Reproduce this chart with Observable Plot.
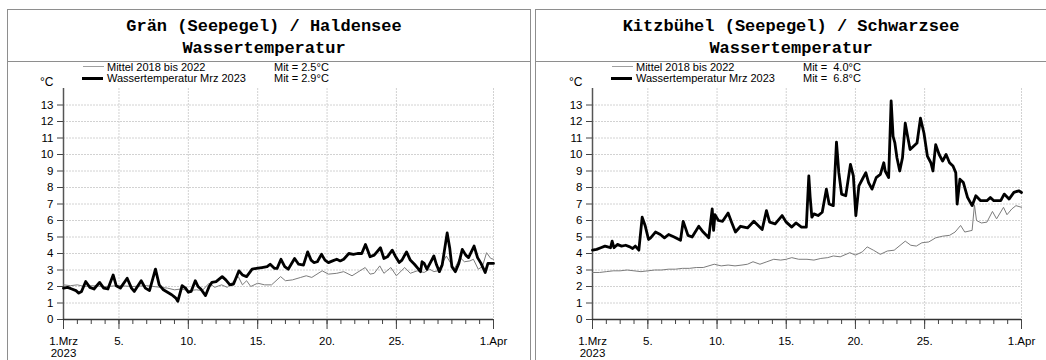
<!DOCTYPE html>
<html>
<head>
<meta charset="utf-8">
<script src="https://cdn.jsdelivr.net/npm/d3@7"></script>
<script src="https://cdn.jsdelivr.net/npm/@observablehq/plot@0.6"></script>
<style>
  html, body { margin: 0; padding: 0; background: #fff; }
  body { width: 1046px; height: 360px; position: relative; overflow: hidden;
         font-family: "Liberation Sans", Arial, sans-serif; color: #000; }
  .abs { position: absolute; }
  .title { font-family: "Liberation Mono", "Courier New", monospace; font-weight: bold;
           font-size: 17px; line-height: 22px; text-align: center; white-space: pre; }
  .leg { font-size: 11px; line-height: 11px; white-space: pre; }
  svg { position: absolute; }
</style>
</head>
<body>
<script>
// ---------- data (days since 1 March 2023 00:00, °C) ----------
const granTitle = ["Grän (Seepegel) / Haldensee", "Wassertemperatur"];
const kitzTitle = ["Kitzbühel (Seepegel) / Schwarzsee", "Wassertemperatur"];
const legendLabels = ["Mittel 2018 bis 2022", "Wassertemperatur Mrz 2023"];
const granMit = ["Mit = 2.5°C", "Mit = 2.9°C"];
const kitzMit = ["Mit =  4.0°C", "Mit =  6.8°C"];
const unitLabel = "°C";

const xMajorTicks = [0, 4, 9, 14, 19, 24, 31];
const xMajorLabels = ["1.Mrz\n2023", "5.", "10.", "15.", "20.", "25.", "1.Apr"];
const xMinorTicks = d3.range(0, 32);
const yTicks = d3.range(0, 14);
const yGrid = d3.range(1, 14);

// Grän / Haldensee – Mittel 2018 bis 2022
const granMean = [
  [0,2.1],[0.5,2.05],[1,2.1],[1.5,2.0],[2,2.05],[3,2.0],[4,2.05],[5,2.0],[6,2.05],
  [7,1.95],[7.5,1.9],[8,1.8],[8.5,1.85],[9,1.75],[9.6,1.8],[10,1.75],[10.5,2.2],
  [10.9,1.95],[11.4,2.1],[11.8,1.95],[12.6,2.6],[12.9,2.1],[13.2,2.35],[13.5,2.0],
  [14,2.2],[14.5,2.1],[15,2.1],[15.65,2.6],[16,2.35],[16.5,2.4],[17.1,2.55],
  [17.5,2.65],[17.9,2.55],[18.65,2.95],[19.1,2.75],[19.7,2.8],[20.2,2.9],[20.8,2.65],
  [21.75,3.15],[22.1,2.75],[22.4,2.8],[22.8,3.25],[23.1,2.8],[23.6,3.15],[24.0,2.65],
  [24.6,3.15],[25.0,2.8],[25.5,2.95],[26.0,2.85],[26.4,3.05],[26.7,2.9],[27.0,2.95],
  [27.6,3.85],[28.0,3.3],[28.2,3.1],[28.6,3.75],[28.9,3.5],[29.3,3.55],[29.55,3.65],
  [29.9,3.05],[30.2,3.2],[30.5,4.05],[30.8,3.7],[31,3.65]
];
// Grän / Haldensee – Wassertemperatur Mrz 2023
const granCur = [
  [0,1.9],[0.3,1.95],[0.6,1.85],[0.9,1.75],[1.1,1.6],[1.3,1.7],[1.6,2.3],[1.9,1.95],
  [2.2,1.85],[2.6,2.25],[2.9,1.9],[3.2,1.85],[3.58,2.7],[3.8,2.05],[4.1,1.9],[4.59,2.5],
  [4.9,1.9],[5.1,1.7],[5.6,2.35],[5.9,1.9],[6.2,1.75],[6.63,3.05],[6.9,2.1],[7.2,1.8],
  [7.5,1.65],[7.8,1.5],[7.95,1.4],[8.1,1.3],[8.24,1.1],[8.55,2.05],[8.8,1.9],[9.0,1.65],
  [9.2,1.7],[9.5,2.35],[9.7,2.0],[9.9,1.85],[10.24,1.45],[10.5,2.0],[10.7,2.25],[11.0,2.3],
  [11.44,2.6],[11.7,2.4],[12.0,2.1],[12.26,2.15],[12.65,2.95],[12.9,2.7],[13.2,2.6],
  [13.6,3.05],[13.9,3.1],[14.3,3.15],[14.68,3.2],[14.9,3.35],[15.2,3.1],[15.4,3.1],
  [15.68,3.65],[15.95,3.2],[16.2,3.05],[16.66,3.7],[16.95,3.35],[17.3,3.3],[17.6,4.1],
  [17.85,3.6],[18.05,3.45],[18.3,3.5],[18.6,3.95],[18.85,3.6],[19.1,3.45],[19.4,3.55],
  [19.7,3.65],[19.95,3.55],[20.2,3.65],[20.57,4.0],[20.9,3.95],[21.2,4.0],[21.5,4.0],
  [21.77,4.55],[21.95,4.15],[22.1,3.8],[22.4,3.9],[22.85,4.35],[23.1,3.7],[23.35,3.8],
  [23.7,4.2],[23.95,3.8],[24.2,3.45],[24.4,3.6],[24.73,4.1],[25.0,3.6],[25.3,3.35],
  [25.55,3.1],[25.74,2.9],[25.85,3.5],[26.0,3.4],[26.2,3.05],[26.45,3.45],[26.7,3.85],
  [26.9,3.3],[27.1,2.9],[27.3,3.3],[27.66,5.25],[27.85,4.3],[28.0,3.2],[28.25,2.9],
  [28.5,3.4],[28.75,4.25],[29.0,3.9],[29.2,3.75],[29.6,4.45],[29.85,3.75],[30.1,3.4],
  [30.4,2.85],[30.6,3.4],[30.8,3.4],[31,3.4]
];
// Kitzbühel / Schwarzsee – Mittel 2018 bis 2022
const kitzMean = [
  [0,2.85],[0.5,2.85],[1,2.9],[1.5,2.95],[2,2.95],[2.5,3.0],[3,2.95],[3.5,2.9],[4,2.95],
  [4.5,3.0],[5,3.0],[5.5,3.05],[6,3.05],[6.5,3.1],[7,3.1],[7.5,3.15],[8,3.15],[8.8,3.35],
  [9.3,3.25],[9.8,3.3],[10.3,3.25],[10.8,3.3],[11.2,3.35],[11.6,3.5],[12.1,3.35],
  [12.6,3.5],[13.1,3.65],[13.6,3.6],[14.0,3.65],[14.4,3.75],[14.9,3.65],[15.5,3.65],
  [16.0,3.6],[16.5,3.7],[17.0,3.75],[17.4,3.85],[17.9,3.8],[18.6,4.05],[19.0,3.9],
  [19.5,4.1],[19.85,4.4],[20.3,4.2],[20.8,3.95],[21.3,4.15],[21.8,4.2],[22.6,4.75],
  [23.0,4.5],[23.4,4.45],[23.8,4.65],[24.3,4.7],[24.8,4.95],[25.3,5.05],[25.8,5.1],
  [26.2,5.3],[26.6,5.7],[26.9,5.3],[27.43,5.4],[27.6,6.95],[27.75,6.0],[28.1,5.85],
  [28.5,5.9],[28.9,6.55],[29.2,6.1],[29.7,6.8],[29.95,6.35],[30.3,6.7],[30.6,6.9],[31,6.8]
];
// Kitzbühel / Schwarzsee – Wassertemperatur Mrz 2023
const kitzCur = [
  [0,4.2],[0.3,4.25],[0.6,4.35],[0.9,4.45],[1.1,4.4],[1.3,4.35],[1.42,4.75],[1.55,4.35],
  [1.8,4.55],[2.1,4.45],[2.4,4.5],[2.7,4.4],[2.9,4.3],[3.1,4.45],[3.35,4.2],[3.59,6.2],
  [3.8,5.7],[4.05,4.85],[4.2,4.95],[4.55,5.3],[4.9,5.15],[5.2,4.95],[5.5,5.15],[5.9,5.0],
  [6.36,4.8],[6.55,5.95],[6.7,5.6],[6.9,5.1],[7.2,5.0],[7.68,5.65],[8.0,5.3],[8.4,4.95],
  [8.65,6.7],[8.75,5.4],[8.85,6.35],[9.1,6.0],[9.4,5.95],[9.8,6.45],[10.05,5.9],
  [10.33,5.3],[10.7,5.65],[11.2,5.55],[11.66,5.95],[12.26,5.45],[12.57,6.6],[12.8,5.9],
  [13.2,5.8],[13.7,6.3],[14.0,5.9],[14.4,5.6],[14.7,5.85],[15.1,5.6],[15.45,5.6],
  [15.63,8.7],[15.73,7.4],[15.85,6.2],[16.0,6.4],[16.3,6.3],[16.6,6.5],[16.9,7.9],
  [17.1,7.0],[17.4,6.9],[17.63,10.75],[17.8,8.9],[18.0,7.6],[18.3,7.5],[18.64,9.4],
  [18.85,8.7],[19.03,6.3],[19.25,8.1],[19.5,8.5],[19.75,8.9],[19.95,8.3],[20.2,7.9],
  [20.5,8.6],[20.8,8.8],[21.05,9.5],[21.15,9.0],[21.4,8.6],[21.58,13.25],[21.72,11.1],
  [21.85,10.7],[22.0,9.8],[22.2,9.0],[22.4,9.8],[22.6,11.9],[22.75,11.2],[22.95,10.3],
  [23.2,10.5],[23.45,10.7],[23.7,12.2],[23.95,11.3],[24.2,9.9],[24.45,9.5],[24.6,9.0],
  [24.8,10.6],[25.05,10.0],[25.3,9.6],[25.55,10.0],[25.8,9.5],[26.05,9.3],[26.25,8.9],
  [26.35,7.0],[26.55,8.5],[26.8,8.3],[27.1,7.4],[27.43,6.9],[27.7,7.5],[28.05,7.2],
  [28.5,7.2],[28.75,7.4],[29.0,7.2],[29.5,7.2],[29.75,7.6],[30.1,7.3],[30.45,7.7],
  [30.8,7.8],[31,7.7]
];

// ---------- helpers ----------
function addDiv(cls, css, text) {
  const d = document.createElement("div");
  d.className = "abs " + (cls || "");
  d.style.cssText += css;
  if (text != null) d.textContent = text;
  document.body.appendChild(d);
  return d;
}
const labelMap = new Map(xMajorTicks.map((t, i) => [t, xMajorLabels[i]]));
const toRows = arr => arr.map(([day, value]) => ({day, value}));

function panel(cfg) {
  // outer box and title separator
  addDiv("", `left:${cfg.boxLeft}px;top:9px;width:${cfg.boxWidth}px;height:420px;border:1px solid #8e8e8e;box-sizing:border-box;`);
  addDiv("", `left:${cfg.boxLeft}px;top:61px;width:${cfg.boxWidth}px;height:1px;background:#8e8e8e;`);
  addDiv("title", `left:${cfg.titleLeft}px;top:16px;width:${cfg.titleWidth}px;`, cfg.title.join("\n"));

  const svgLeft = cfg.boxLeft + 1;
  const plotLeft = svgLeft + cfg.marginLeft;

  // legend
  addDiv("", `left:${plotLeft + 20}px;top:66px;width:21px;height:1px;background:#a0a0a0;`);
  addDiv("", `left:${plotLeft + 19}px;top:76.5px;width:21px;height:3px;background:#000;`);
  addDiv("leg", `left:${plotLeft + 44}px;top:61.5px;`, legendLabels[0]);
  addDiv("leg", `left:${plotLeft + 44}px;top:72.5px;`, legendLabels[1]);
  addDiv("leg", `left:${plotLeft + 211}px;top:61.5px;`, cfg.mit[0]);
  addDiv("leg", `left:${plotLeft + 211}px;top:72.5px;`, cfg.mit[1]);
  addDiv("", `left:${plotLeft - 23}px;top:76px;font-size:12px;line-height:12px;`, unitLabel);

  const chart = Plot.plot({
    width: 522,
    height: 298,
    marginLeft: cfg.marginLeft,
    marginRight: 37,
    marginTop: 26,
    marginBottom: 41,
    style: {fontFamily: '"Liberation Sans", Arial, sans-serif', fontSize: "12px",
            background: "transparent", overflow: "visible", color: "#000"},
    x: {type: "linear", domain: [0, 31], axis: null},
    y: {domain: [0, 14], axis: null},
    marks: [
      Plot.gridY({ticks: yGrid, stroke: "#d2d2d2", strokeOpacity: 1, strokeDasharray: "2,1"}),
      Plot.gridX({ticks: xMajorTicks.slice(1), stroke: "#d2d2d2", strokeOpacity: 1, strokeDasharray: "2,1"}),
      Plot.axisY({ticks: yTicks, tickSize: 6, tickPadding: 4, fontSize: 11.5, stroke: "#444", label: null}),
      Plot.axisX({ticks: xMinorTicks, tickSize: 5, tickFormat: () => "", stroke: "#444", label: null}),
      Plot.axisX({ticks: xMajorTicks, tickSize: 10, tickPadding: 7, fontSize: 11.5, lineHeight: 1.05,
                  tickFormat: d => labelMap.get(d), stroke: "#444", label: null}),
      Plot.ruleX([0], {stroke: "#555", strokeWidth: 1.5}),
      Plot.ruleY([0], {stroke: "#333", strokeWidth: 1.5}),
      Plot.line(toRows(cfg.mean), {x: "day", y: "value", stroke: "#7c7c7c", strokeWidth: 1}),
      Plot.line(toRows(cfg.cur), {x: "day", y: "value", stroke: "#000", strokeWidth: 2.8,
                                  strokeLinejoin: "round", strokeLinecap: "round"})
    ]
  });
  chart.style.left = svgLeft + "px";
  chart.style.top = "62px";
  document.body.appendChild(chart);
}

panel({boxLeft: 7, boxWidth: 524, titleLeft: 7, titleWidth: 514, marginLeft: 55,
       title: granTitle, mit: granMit, mean: granMean, cur: granCur});
panel({boxLeft: 535, boxWidth: 524, titleLeft: 535, titleWidth: 512, marginLeft: 56,
       title: kitzTitle, mit: kitzMit, mean: kitzMean, cur: kitzCur});
</script>
</body>
</html>
